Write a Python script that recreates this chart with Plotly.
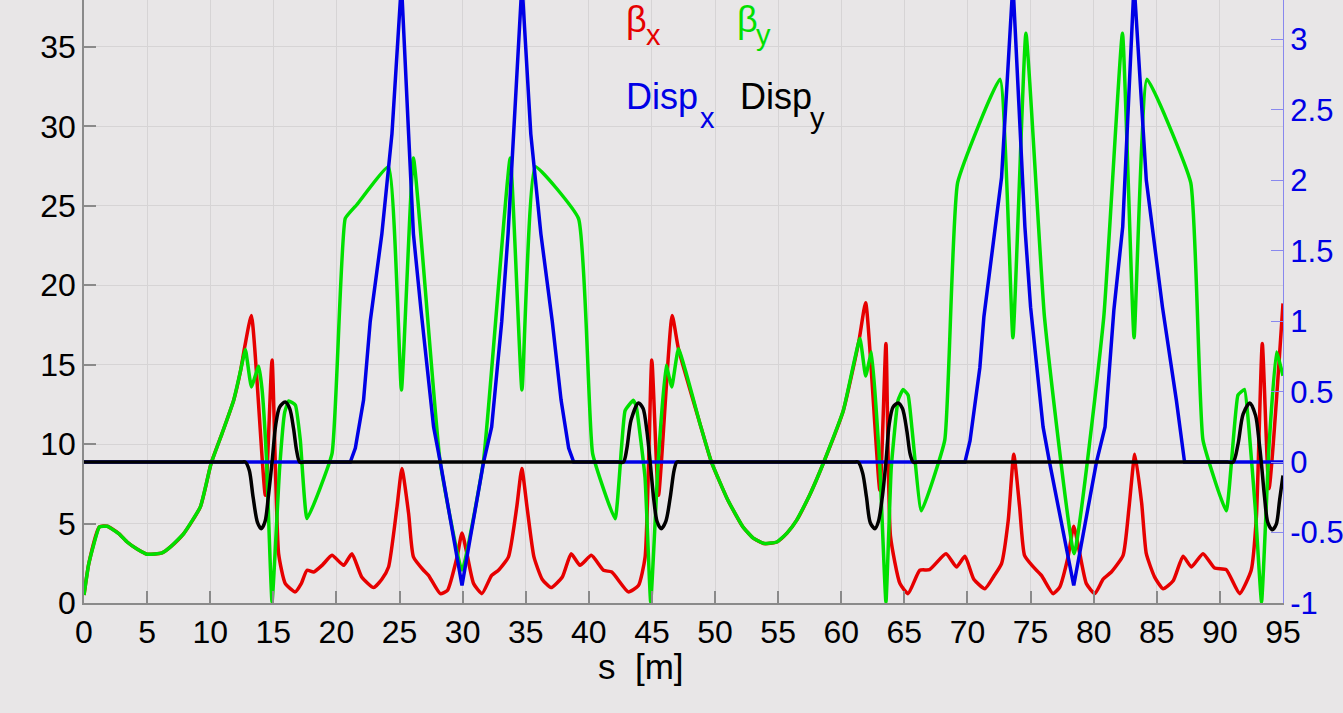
import plotly.graph_objects as go

# ---------------- data ----------------
# beta_y (green), left axis
s_by = [0.0, 0.38, 1.22, 1.84, 2.76, 3.42, 4.2, 5.0, 6.19, 6.85, 7.9, 9.22, 10.07, 10.94, 11.86, 12.4, 12.79,
        13.26, 13.84, 14.1, 14.45, 14.9, 15.5, 15.9, 16.22, 16.75, 17.14, 17.67, 19.65, 20.7, 21.63, 24.13,
        25.15, 26.1, 28.2, 29.95, 31.66, 33.77, 34.7, 35.75, 39.18, 40.3, 42.08, 42.87, 43.53, 43.75, 44.45,
        44.9, 45.5, 46.12, 46.57, 47.1, 48.8, 49.7, 51.0, 52.2, 53.0, 53.9, 54.9, 55.7, 56.46, 57.5, 58.57,
        60.16, 61.48, 61.93, 62.4, 63.06, 63.54, 63.96, 64.5, 64.9, 65.3, 65.6, 66.35, 68.2, 69.22, 72.57,
        73.6, 74.63, 76.1, 78.45, 80.8, 82.28, 83.2, 84.23, 87.69, 88.66, 90.5, 91.43, 91.95, 92.3, 92.8,
        93.3, 93.9, 94.48, 95.0]
beta_y = [0.5, 2.48, 4.79, 4.83, 4.37, 3.84, 3.4, 3.07, 3.15, 3.53, 4.37, 6.05, 8.78, 10.67, 12.76, 14.6, 15.96,
          13.6, 14.9, 13.5, 9.2, 0.06, 8.5, 12.0, 12.72, 12.45, 10.25, 5.31, 9.4, 24.2, 25.08, 27.46,
          13.4, 28.0, 9.0, 2.06, 9.0, 28.0, 13.4, 27.46, 24.2, 9.4, 5.3, 12.1, 12.76, 12.4, 7.9,
          0.06, 9.0, 14.97, 13.6, 16.0, 11.3, 8.9, 6.5, 4.8, 4.1, 3.74, 3.84, 4.4, 5.2, 6.8, 8.78,
          12.1, 16.65, 14.28, 15.8, 8.5, 0.06, 8.5, 12.76, 13.44, 13.08, 11.0, 5.8, 10.25, 26.45, 32.96,
          16.7, 35.86, 18.0, 3.1, 18.0, 35.86, 16.7, 32.96, 26.45, 10.25, 5.8, 13.08, 13.44, 11.0, 6.0,
          0.06, 10.0, 15.8, 14.3]

# beta_x (red), left axis
s_bx = [0.0, 0.38, 1.22, 1.84, 2.76, 3.42, 4.2, 5.0, 6.19, 6.85, 7.9, 9.22, 10.07, 10.94, 11.86, 12.4, 12.73,
        13.26, 14.37, 14.9, 15.42, 15.95, 16.74, 17.2, 17.67, 18.2, 18.9, 19.65, 20.57, 21.23, 22.0, 22.95,
        23.6, 24.13, 24.8, 25.19, 25.72, 26.1, 26.9, 27.3, 28.23, 28.8, 29.56, 29.95, 30.34, 30.87, 31.53,
        32.3, 32.84, 33.63, 34.29, 34.69, 35.1, 35.65, 36.3, 37.0, 37.9, 38.6, 39.3, 40.2, 41.16, 41.82,
        43.13, 43.93, 44.46, 44.99, 45.52, 46.6, 47.1, 48.8, 49.7, 51.0, 52.2, 53.0, 53.9, 54.9, 55.7, 56.46,
        57.5, 58.57, 60.16, 61.4, 61.93, 63.06, 63.54, 63.9, 64.65, 65.3, 66.22, 66.99, 68.3, 69.13, 69.8,
        70.5, 71.38, 72.1, 72.7, 73.23, 73.67, 74.13, 74.52, 75.18, 75.86, 76.78, 77.31, 77.97, 78.42,
        78.9, 79.42, 80.09, 80.75, 81.4, 82.33, 82.8, 83.26, 83.8, 84.17, 84.83, 85.5, 86.3, 87.08, 87.74,
        88.66, 89.58, 90.5, 91.56, 92.48, 92.89, 93.36, 93.89, 95.0]
beta_x = [0.5, 2.48, 4.79, 4.83, 4.37, 3.84, 3.4, 3.07, 3.15, 3.53, 4.37, 6.05, 8.78, 10.67, 12.76, 14.6, 16.1,
          18.1, 6.78, 15.3, 3.1, 1.22, 0.7, 1.2, 2.06, 1.95, 2.4, 3.0, 2.37, 3.1, 1.64, 0.97,
          1.5, 2.27, 6.05, 8.46, 5.63, 2.9, 2.06, 1.74, 0.59, 0.8, 2.9, 4.41, 3.1, 1.22, 0.59,
          1.74, 2.06, 2.9, 6.05, 8.46, 6.05, 2.9, 1.5, 0.97, 1.64, 3.1, 2.37, 3.0, 2.06, 1.95,
          0.7, 1.1, 2.9, 15.3, 6.78, 18.1, 16.0, 11.3, 8.9, 6.5, 4.8, 4.1, 3.74, 3.84, 4.4, 5.2,
          6.8, 8.78, 12.1, 16.5, 18.9, 7.1, 16.33, 4.2, 1.22, 0.59, 2.06, 2.1, 3.1, 2.27, 2.94,
          1.5, 0.9, 1.7, 2.48, 5.2, 9.36, 6.05, 3.0, 2.3, 1.74, 0.59, 1.0, 2.9, 4.83,
          3.1, 1.22, 0.59, 1.5, 1.95, 3.0, 6.0, 9.36, 6.3, 3.1, 1.63, 0.9, 1.4, 2.94, 2.27,
          3.1, 2.2, 2.1, 0.59, 2.06, 5.4, 16.33, 7.2, 18.85]

# Disp_x (blue), right axis
s_dx = [0.0, 21.1, 21.5, 22.15, 22.68, 23.6, 24.4, 25.15, 25.72, 26.1, 26.7, 27.7, 28.23, 29.3, 29.95, 30.6,
        31.66, 32.3, 33.1, 33.6, 34.03, 34.7, 35.4, 36.2, 37.1, 37.8, 38.4, 38.8, 69.8, 70.2, 70.98, 71.3,
        72.7, 73.6, 74.55, 75.0, 75.99, 76.5, 78.42, 80.22, 80.9, 81.6, 82.3, 83.2, 84.17, 85.45, 86.55,
        87.2, 95.0]
disp_x = [0.0, 0.0, 0.1, 0.44, 1.0, 1.62, 2.33, 3.4, 2.33, 1.62, 1.08, 0.25, 0.0, -0.54, -0.876, -0.54,
          0.0, 0.25, 1.0, 1.62, 2.33, 3.4, 2.33, 1.62, 1.0, 0.44, 0.1, 0.0, 0.0, 0.15, 0.67, 1.03,
          2.02, 3.4, 1.67, 1.1, 0.25, 0.0, -0.876, 0.0, 0.25, 1.08, 1.67, 3.4, 2.0, 1.1, 0.44,
          0.0, 0.0]

# Disp_y (black), right axis
s_dy = [0.0, 12.4, 12.79, 13.1, 13.4, 13.75, 14.05, 14.35, 14.6, 14.9, 15.2, 15.5, 15.94, 16.3, 16.6, 16.85,
        17.09, 17.5,
        42.3, 42.74, 43.0, 43.35, 43.93, 44.3, 44.6, 44.86, 45.15, 45.4, 45.73, 46.1, 46.45, 46.75, 46.97, 47.4,
        60.9, 61.35, 61.7, 62.0, 62.3, 62.67, 62.95, 63.25, 63.54, 63.8, 64.1, 64.5, 64.85, 65.2, 65.45, 65.7,
        66.1,
        90.6, 91.05, 91.44, 91.84, 92.37, 92.83, 93.1, 93.28, 93.54, 93.8, 94.15, 94.47, 94.73, 95.0]
disp_y = [0.0, 0.0, 0.0, -0.06, -0.25, -0.43, -0.473, -0.42, -0.25, 0.0, 0.27, 0.39, 0.426, 0.38, 0.24, 0.08,
          0.0, 0.0,
          0.0, 0.0, 0.09, 0.30, 0.42, 0.38, 0.22, 0.0, -0.27, -0.42, -0.473, -0.42, -0.25, -0.06, 0.0, 0.0,
          0.0, 0.0, -0.08, -0.25, -0.43, -0.473, -0.42, -0.25, 0.0, 0.27, 0.39, 0.42, 0.38, 0.22, 0.06, 0.0,
          0.0,
          0.0, 0.0, 0.13, 0.34, 0.42, 0.33, 0.15, 0.0, -0.25, -0.43, -0.48, -0.44, -0.27, -0.095]

x_ticks = list(range(0, 96, 5))
y_ticks = list(range(0, 36, 5))
y2_ticks = [-1, -0.5, 0, 0.5, 1, 1.5, 2, 2.5, 3]
y2_labels = ["-1", "-0.5", "0", "0.5", "1", "1.5", "2", "2.5", "3"]

# ---------------- style ----------------
BG = "#e8e6e7"
GRID = "#d6d4d5"
AX = "#8a8a8a"
RED, GREEN, BLUE, BLACK = "#e60000", "#00e000", "#0000e6", "#000000"
FONT = "Liberation Sans, Arial, Helvetica, sans-serif"
LW = 3.5

fig = go.Figure()
fig.add_trace(go.Scatter(x=s_bx, y=beta_x, mode="lines",
                         line=dict(color=RED, width=LW, shape="spline", smoothing=0.5), yaxis="y"))
fig.add_trace(go.Scatter(x=s_by, y=beta_y, mode="lines",
                         line=dict(color=GREEN, width=LW, shape="spline", smoothing=0.35), yaxis="y"))
fig.add_trace(go.Scatter(x=s_dx, y=disp_x, mode="lines", line=dict(color=BLUE, width=LW), yaxis="y2"))
fig.add_trace(go.Scatter(x=s_dy, y=disp_y, mode="lines",
                         line=dict(color=BLACK, width=LW, shape="spline", smoothing=0.8), yaxis="y2"))

L, R, T, B = 83.5, 1283.0, 0.0, 603.0
W, H = 1343, 713


def px(xp):
    return (xp - L) / (R - L)


def py(yp):
    return (B - yp) / (B - T)


annots = []


def label(text, xp, yp, color, size):
    annots.append(dict(text=text, x=px(xp), y=py(yp), xref="paper", yref="paper",
                       xanchor="left", yanchor="middle", showarrow=False,
                       font=dict(family=FONT, size=size, color=color)))


label("β", 624, 20, RED, 36)
label("x", 644, 35, RED, 29)
label("β", 735, 20, GREEN, 36)
label("y", 754, 35, GREEN, 29)
label("Disp", 624, 96, BLUE, 36)
label("x", 698, 118, BLUE, 29)
label("Disp", 738, 96, BLACK, 36)
label("y", 808, 118, BLACK, 29)

annots.append(dict(text="s  [m]", x=px(641), y=py(666), xref="paper", yref="paper",
                   xanchor="center", yanchor="middle", showarrow=False,
                   font=dict(family=FONT, size=35, color="black")))

fig.update_layout(
    width=W, height=H, autosize=False,
    margin=dict(l=L, r=W - R, t=T, b=H - B, autoexpand=False),
    paper_bgcolor=BG, plot_bgcolor=BG,
    showlegend=False,
    font=dict(family=FONT, size=32, color="black"),
    xaxis=dict(range=[0, 95], tickvals=x_ticks, ticks="inside", ticklen=12, tickwidth=1.5,
               tickcolor=AX, showline=True, linecolor=AX, linewidth=1.5, showgrid=True,
               gridcolor=GRID, gridwidth=1, zeroline=False, tickfont=dict(size=32, color="black")),
    yaxis=dict(range=[0, 37.95], tickvals=y_ticks, ticks="inside", ticklen=12, tickwidth=1.5,
               tickcolor=AX, showline=True, linecolor=AX, linewidth=1.5, showgrid=True,
               gridcolor=GRID, gridwidth=1, zeroline=False, tickfont=dict(size=32, color="black")),
    yaxis2=dict(range=[-1, 3.28], overlaying="y", side="right", tickvals=y2_ticks, ticktext=y2_labels,
                ticks="inside", ticklen=12, tickwidth=1.2, tickcolor="#8888ee", showline=True,
                linecolor="#8888ee", linewidth=1.2, showgrid=False, zeroline=False,
                tickfont=dict(size=31, color=BLUE)),
    annotations=annots,
)

fig.write_html(
    "out.html",
    config={"displayModeBar": False},
    post_script="document.body.style.margin='0';document.body.style.background='" + BG + "';"
                "document.body.style.overflow='hidden';",
)
